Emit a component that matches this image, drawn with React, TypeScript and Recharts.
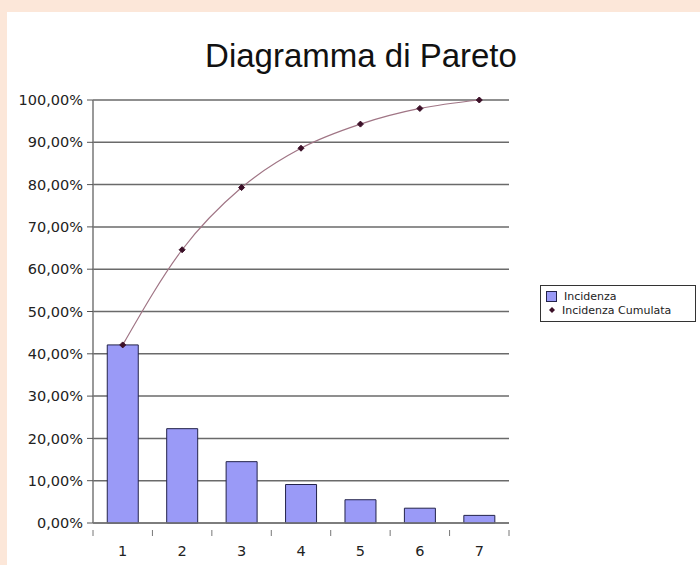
import {
  Bar,
  CartesianGrid,
  ComposedChart,
  Line,
  XAxis,
  YAxis,
} from "recharts";

const CATEGORIE = ["1", "2", "3", "4", "5", "6", "7"];
const INCIDENZA = [42.1, 22.3, 14.5, 9.1, 5.5, 3.5, 1.8];
const INCIDENZA_CUMULATA = [42.1, 64.6, 79.3, 88.6, 94.3, 98.0, 100.0];
const TICK_Y = [0, 10, 20, 30, 40, 50, 60, 70, 80, 90, 100];

const dati = CATEGORIE.map((c, i) => ({
  categoria: c,
  incidenza: INCIDENZA[i],
  cumulata: INCIDENZA_CUMULATA[i],
}));

const LARGHEZZA = 700;
const ALTEZZA = 565;
const MARGINE = { top: 100, right: 191, bottom: 12, left: 0 };
const ASSE_Y = 93;
const BANDA = (LARGHEZZA - MARGINE.right - ASSE_Y) / CATEGORIE.length;

const FONT = "'DejaVu Sans', sans-serif";
const COLORE_TESTO = "#222";
const COLORE_BARRA = "#9a9af7";
const BORDO_BARRA = "#23234a";
const COLORE_LINEA = "#a07585";
const COLORE_PUNTO = "#3c1028";

function formattaPercentuale(v: number) {
  return v.toFixed(2).replace(".", ",") + "%";
}

function Rombo({ cx, cy }: { cx?: number; cy?: number }) {
  if (cx == null || cy == null) return null;
  const r = 3;
  return (
    <path
      d={`M${cx},${cy - r}L${cx + r},${cy}L${cx},${cy + r}L${cx - r},${cy}Z`}
      fill={COLORE_PUNTO}
      stroke={COLORE_PUNTO}
    />
  );
}

function TickCategoria({
  x,
  y,
  payload,
  index,
}: {
  x?: number;
  y?: number;
  payload?: { value: string };
  index?: number;
}) {
  if (x == null || y == null || !payload) return null;
  const sinistra = x - BANDA / 2;
  const ultimo = index === CATEGORIE.length - 1;
  return (
    <g>
      <line x1={sinistra} x2={sinistra} y1={y - 1} y2={y + 5} stroke="#777" />
      {ultimo && (
        <line
          x1={x + BANDA / 2}
          x2={x + BANDA / 2}
          y1={y - 1}
          y2={y + 5}
          stroke="#777"
        />
      )}
      <text
        x={x}
        y={y + 25}
        textAnchor="middle"
        fontFamily={FONT}
        fontSize={14.5}
        fill={COLORE_TESTO}
      >
        {payload.value}
      </text>
    </g>
  );
}

function Legenda() {
  return (
    <div
      style={{
        position: "absolute",
        left: 540,
        top: 285,
        border: "1px solid #333",
        background: "#fff",
        width: 156,
        padding: "3px 0 4px 5px",
        fontFamily: FONT,
        fontSize: 11,
        color: COLORE_TESTO,
        boxSizing: "border-box",
      }}
    >
      <div style={{ display: "flex", alignItems: "center", height: 14 }}>
        <span
          style={{
            width: 9,
            height: 9,
            background: COLORE_BARRA,
            border: `1px solid ${BORDO_BARRA}`,
            marginRight: 7,
          }}
        />
        Incidenza
      </div>
      <div style={{ display: "flex", alignItems: "center", height: 14 }}>
        <svg width={10} height={10} style={{ marginRight: 5, marginLeft: 1 }}>
          <path d="M5,2L8,5L5,8L2,5Z" fill={COLORE_PUNTO} />
        </svg>
        Incidenza Cumulata
      </div>
    </div>
  );
}

export default function App() {
  return (
    <div
      style={{
        position: "relative",
        width: LARGHEZZA,
        height: ALTEZZA,
        background: "#fce7d9",
        overflow: "hidden",
      }}
    >
      <style>{"body{margin:0}"}</style>
      <div
        style={{
          position: "absolute",
          left: 7,
          top: 12,
          right: 0,
          bottom: 0,
          background: "#fff",
        }}
      />
      <div
        style={{
          position: "absolute",
          left: 0,
          width: 722,
          top: 38,
          textAlign: "center",
          fontFamily: "'Liberation Sans', Arial, sans-serif",
          fontSize: 33,
          color: "#111",
          lineHeight: "36px",
        }}
      >
        Diagramma di Pareto
      </div>
      <div style={{ position: "absolute", left: 0, top: 0 }}>
        <ComposedChart
          width={LARGHEZZA}
          height={ALTEZZA}
          data={dati}
          margin={MARGINE}
          barCategoryGap="24%"
        >
          <CartesianGrid
            horizontal
            vertical={false}
            stroke="#6a6a6a"
            strokeWidth={1.5}
          />
          <XAxis
            dataKey="categoria"
            height={30}
            axisLine={{ stroke: "#777", strokeWidth: 1.5 }}
            tickLine={false}
            tick={<TickCategoria />}
            interval={0}
          />
          <YAxis
            width={ASSE_Y}
            domain={[0, 100]}
            ticks={TICK_Y}
            tickFormatter={formattaPercentuale}
            axisLine={{ stroke: "#777", strokeWidth: 1.5 }}
            tickLine={{ stroke: "#555" }}
            tickSize={6}
            tickMargin={4}
            tick={{ fontFamily: FONT, fontSize: 14.5, fill: COLORE_TESTO }}
            interval={0}
          />
          <Bar
            dataKey="incidenza"
            name="Incidenza"
            fill={COLORE_BARRA}
            stroke={BORDO_BARRA}
            strokeWidth={1}
            isAnimationActive={false}
          />
          <Line
            dataKey="cumulata"
            name="Incidenza Cumulata"
            type="monotone"
            stroke={COLORE_LINEA}
            strokeWidth={1.2}
            dot={<Rombo />}
            activeDot={false}
            isAnimationActive={false}
          />
        </ComposedChart>
      </div>
      <Legenda />
    </div>
  );
}
